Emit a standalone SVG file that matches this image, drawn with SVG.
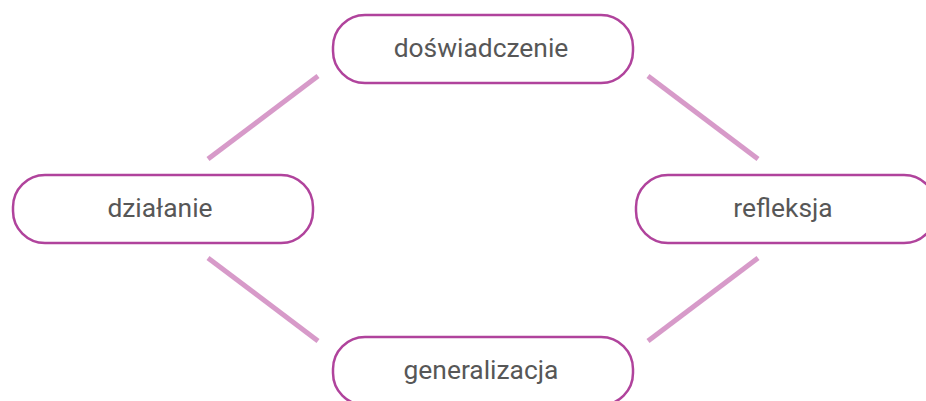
<svg xmlns="http://www.w3.org/2000/svg" width="926" height="401" viewBox="0 0 926 401">
<style>
.node rect{fill:#fff;stroke:#b0439c;stroke-width:2.5}
.node text{font-family:Roboto,"Liberation Sans",sans-serif;font-size:26.4px;fill:#575757;text-anchor:middle}
.conn line{stroke:#d79ac9;stroke-width:5}
</style>
<rect width="926" height="401" fill="#fff"/>
<g id="connectors" class="conn">
<line x1="208" y1="159" x2="318" y2="76"/>
<line x1="648" y1="76" x2="758" y2="159"/>
<line x1="208" y1="258" x2="318" y2="341"/>
<line x1="648" y1="341" x2="758" y2="258"/>
</g>
<g id="doswiadczenie" class="node">
<rect x="333" y="15" width="300" height="68" rx="32"/>
<text x="481" y="57">doświadczenie</text>
</g>
<g id="dzialanie" class="node">
<rect x="13" y="175" width="300" height="68" rx="32"/>
<text x="160" y="217">działanie</text>
</g>
<g id="refleksja" class="node">
<rect x="636" y="175" width="300" height="68" rx="32"/>
<text x="783" y="217">refleksja</text>
</g>
<g id="generalizacja" class="node">
<rect x="333" y="337" width="300" height="68" rx="32"/>
<text x="481" y="379">generalizacja</text>
</g>
</svg>
